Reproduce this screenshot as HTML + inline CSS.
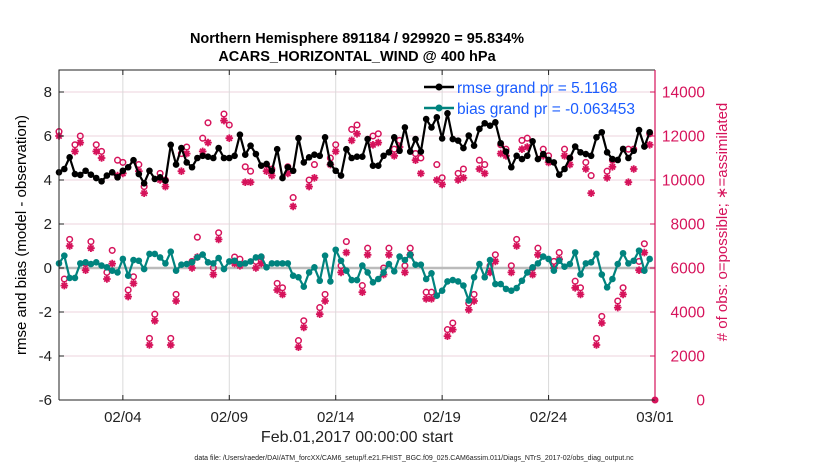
<!DOCTYPE html>
<html><head><meta charset="utf-8"><style>
html,body{margin:0;padding:0;background:#fff;}
svg{display:block;font-family:"Liberation Sans",Arial,sans-serif;}
</style></head><body>
<svg id="chart" width="830" height="470" viewBox="0 0 830 470">
<text x="357" y="43" text-anchor="middle" font-size="14.5" font-weight="bold">Northern Hemisphere 891184 / 929920 = 95.834%</text>
<text x="357" y="61" text-anchor="middle" font-size="14.5" font-weight="bold">ACARS_HORIZONTAL_WIND @ 400 hPa</text>
<g id="grid"></g><g id="marks"></g><g id="axes"></g>
<text transform="translate(26,235) rotate(-90)" text-anchor="middle" font-size="15">rmse and bias (model - observation)</text>
<text transform="translate(727,222) rotate(-90)" text-anchor="middle" font-size="15" fill="#d6135b"># of obs: o=possible; ∗=assimilated</text>
<text x="357" y="442" text-anchor="middle" font-size="16" fill="#222">Feb.01,2017 00:00:00 start</text>
<text x="414" y="460" text-anchor="middle" font-size="7" fill="#222">data file: /Users/raeder/DAI/ATM_forcXX/CAM6_setup/f.e21.FHIST_BGC.f09_025.CAM6assim.011/Diags_NTrS_2017-02/obs_diag_output.nc</text>
<g>
<line x1="424" y1="87" x2="454" y2="87" stroke="#000" stroke-width="2.5"/>
<circle cx="439" cy="87" r="3.5" fill="#000"/>
<text x="457" y="93" font-size="15.5" fill="#1a5cff">rmse grand pr = 5.1168</text>
<line x1="424" y1="108" x2="454" y2="108" stroke="#00837e" stroke-width="2.5"/>
<circle cx="439" cy="108" r="3.5" fill="#00837e"/>
<text x="457" y="114" font-size="15.5" fill="#1a5cff">bias grand pr = -0.063453</text>
</g>
</svg>
<script>
const leftTicks=[8,6,4,2,0,-2,-4,-6];
const rightTicks=[14000,12000,10000,8000,6000,4000,2000,0];
const dateTicks=[3,8,13,18,23,28];
const dateLabels=["02/04","02/09","02/14","02/19","02/24","03/01"];
const rmse=[4.35,4.5,5.03,4.27,4.23,4.42,4.24,4.09,3.94,4.2,4.35,4.12,4.42,4.58,4.9,4.27,3.85,4.42,4.05,4.12,3.97,5.6,4.7,5.45,4.8,4.58,5.0,5.1,5.06,
5.0,5.45,5.0,5.0,5.1,6.06,5.15,5.56,5.18,4.65,4.73,4.42,5.4,4.09,4.58,4.42,5.9,4.8,5.03,5.15,5.1,5.94,4.73,4.42,4.2,5.4,5.0,5.06,
5.06,5.86,4.65,4.65,5.1,5.26,5.94,5.33,6.39,5.29,5.86,5.29,6.77,6.39,6.85,5.89,7.03,5.86,5.79,5.45,6.02,5.56,6.32,6.58,6.47,6.62,5.67,5.29,
4.58,5.1,4.95,5.1,5.76,4.95,5.18,4.91,4.8,4.24,4.5,5.0,5.52,5.26,5.18,5.1,5.94,6.17,5.26,4.95,4.91,5.41,5.0,5.33,6.27,5.52,6.17];
const bias=[0.21,0.56,-0.45,-0.45,0.21,0.26,0.18,0.26,0.11,0.03,-0.12,-0.2,0.41,-0.35,0.36,0.33,-0.05,0.64,0.64,0.48,0.21,0.74,-0.12,0.15,0.18,0.26,0.48,0.61,0.26,
0.21,0.45,-0.05,0.3,0.33,0.18,0.21,0.3,0.48,0.52,0.03,0.21,0.21,0.21,0.21,-0.35,-0.42,-0.85,-0.2,0.03,-0.58,0.56,-0.61,0.83,0.33,-0.12,-0.55,-0.55,
0.11,-0.2,-0.65,-0.5,-0.2,0.18,-0.15,0.52,0.36,0.61,0.15,0.15,-0.5,-0.24,-1.26,-1.03,-0.61,-0.55,-0.61,-0.8,-1.48,-0.42,0.18,-0.42,0.36,-0.73,-0.73,-0.95,
-1.03,-0.91,-0.58,-0.2,0.03,0.21,0.52,0.41,-0.12,0.33,0.06,0.18,0.71,-0.3,0.21,0.26,0.64,-0.3,-0.88,-0.5,0.18,0.67,0.21,0.33,0.79,-0.12,0.41];
const nAssim=[12000,5200,7000,11300,11700,5900,6900,11300,11000,5500,6200,10200,10300,4700,5300,10400,9400,2500,3600,10000,9700,2500,4500,10400,11200,6000,6500,11300,11700,
5700,7300,12700,11900,6200,6100,9900,9900,6000,6200,10400,10200,5000,4800,10300,8800,2400,3300,9700,10100,3900,4500,10700,11300,5800,6700,11800,12100,
4900,6600,11600,11700,5700,6600,11100,11500,5800,6600,10900,10300,4600,4600,10000,9800,2900,3200,10000,10100,4100,4500,10500,10300,5800,6300,11200,11100,
5800,7000,11400,11500,5700,6600,11100,10800,6000,6400,11100,10700,5100,4800,10500,9400,2500,3500,10100,10600,4200,4800,9900,10500,5900,6700,11600];
const nPoss=[12200,5500,7300,11600,12000,6200,7200,11600,11300,5800,6800,10900,10800,5000,5600,10700,9700,2800,3900,10300,10000,2800,4800,11200,11500,6300,7400,11900,12600,
6000,7600,13000,12500,6500,6400,10600,10400,6300,6500,10700,10500,5300,5100,10600,9200,2700,3600,10000,10700,4200,4800,11000,11600,6100,7200,12300,12500,
5200,6900,12000,12100,6000,6900,11400,11800,6100,6900,11200,11000,4900,4900,10700,10100,3200,3500,10300,10500,4400,4800,10900,10700,6100,6600,11600,11400,
6100,7300,11800,11900,6000,6900,11400,11100,6300,6700,11400,11000,5400,5100,10800,10200,2800,3800,10400,10900,4500,5100,11400,11400,6300,7100,12100];
const dt=0.25;

const X0=59,X1=655,Y0=70,Y1=400;
const xS=d=>X0+(d/28)*(X1-X0);
const yL=v=>Y1-(v+6)/15*(Y1-Y0);
const yR=c=>Y1-c/15000*(Y1-Y0);
const NS="http://www.w3.org/2000/svg";
function mk(tag,attrs,parent){const e=document.createElementNS(NS,tag);for(const k in attrs)e.setAttribute(k,attrs[k]);parent.appendChild(e);return e;}
const grid=document.getElementById('grid'),marks=document.getElementById('marks'),axes=document.getElementById('axes');

rightTicks.forEach((c,i)=>{
  const g=mk('line',{x1:X0,x2:X1,y1:yR(c),y2:yR(c),stroke:'#ecd3dc','stroke-width':1},grid);
  
  
  const t=mk('text',{x:705,y:yR(c)+5.5,'font-size':15.5,'text-anchor':'end',fill:'#d6135b'},axes);t.textContent=c;
  
  
  const tk=mk('line',{x1:X1-5,x2:X1,y1:yR(c),y2:yR(c),stroke:'#d6135b'},axes);
  
  
});
dateTicks.forEach((d,i)=>{
  const g=mk('line',{x1:xS(d),x2:xS(d),y1:Y0,y2:Y1,stroke:'#dadada','stroke-width':1},grid);
  
  
  const t=mk('text',{x:xS(d),y:422,'font-size':15,'text-anchor':'middle',fill:'#222'},axes);t.textContent=dateLabels[i];
  
  
  mk('line',{x1:xS(d),x2:xS(d),y1:Y1,y2:Y1-5,stroke:'#222'},axes);
  mk('line',{x1:xS(d),x2:xS(d),y1:Y0,y2:Y0+5,stroke:'#222'},axes);
});
leftTicks.forEach(v=>{
  const t=mk('text',{x:52,y:yL(v)+5,'font-size':15,'text-anchor':'end',fill:'#222'},axes);t.textContent=v;
  
  
  mk('line',{x1:X0,x2:X0+5,y1:yL(v),y2:yL(v),stroke:'#222'},axes);
});
const zl=mk('line',{x1:X0,x2:X1,y1:yL(0),y2:yL(0),stroke:'#bbbbbb','stroke-width':2.5},grid);



// obs counts
nPoss.forEach((c,i)=>{
  const e=mk('circle',{cx:xS(i*dt),cy:yR(c),r:2.8,fill:'none',stroke:'#d6135b','stroke-width':1.5},marks);
  
  
});
nAssim.forEach((c,i)=>{
  const x=xS(i*dt),y=yR(c),r=3.8;
  const d=`M${x-r},${y}H${x+r}M${x},${y-r}V${y+r}M${x-r*0.7},${y-r*0.7}L${x+r*0.7},${y+r*0.7}M${x-r*0.7},${y+r*0.7}L${x+r*0.7},${y-r*0.7}`;
  const e=mk('path',{d:d,stroke:'#d6135b','stroke-width':1.8,fill:'none'},marks);
  
  
});
function series(vals,color,name){
  const pts=vals.map((v,i)=>xS(i*dt).toFixed(1)+','+yL(v).toFixed(1)).join(' ');
  const p=mk('polyline',{points:pts,fill:'none',stroke:color,'stroke-width':2.2,'stroke-linejoin':'round'},marks);
  
  
  vals.forEach((v,i)=>{
    const c=mk('circle',{cx:xS(i*dt),cy:yL(v),r:3.3,fill:color},marks);
    
    
  });
}
series(bias,'#00837e','bias');
series(rmse,'#000000','rmse');
const dm=mk('circle',{cx:X1,cy:Y1,r:3.5,fill:'#d6135b'},marks);



const fr=mk('path',{d:`M${X0},${Y1}V${Y0}H${X1}`,fill:'none',stroke:'#222','stroke-width':1},axes);


mk('line',{x1:X0,x2:X1,y1:Y1,y2:Y1,stroke:'#222'},axes);
const ra=mk('line',{x1:X1,x2:X1,y1:Y0,y2:Y1,stroke:'#d6135b','stroke-width':1.2},axes);


</script>
</body></html>
